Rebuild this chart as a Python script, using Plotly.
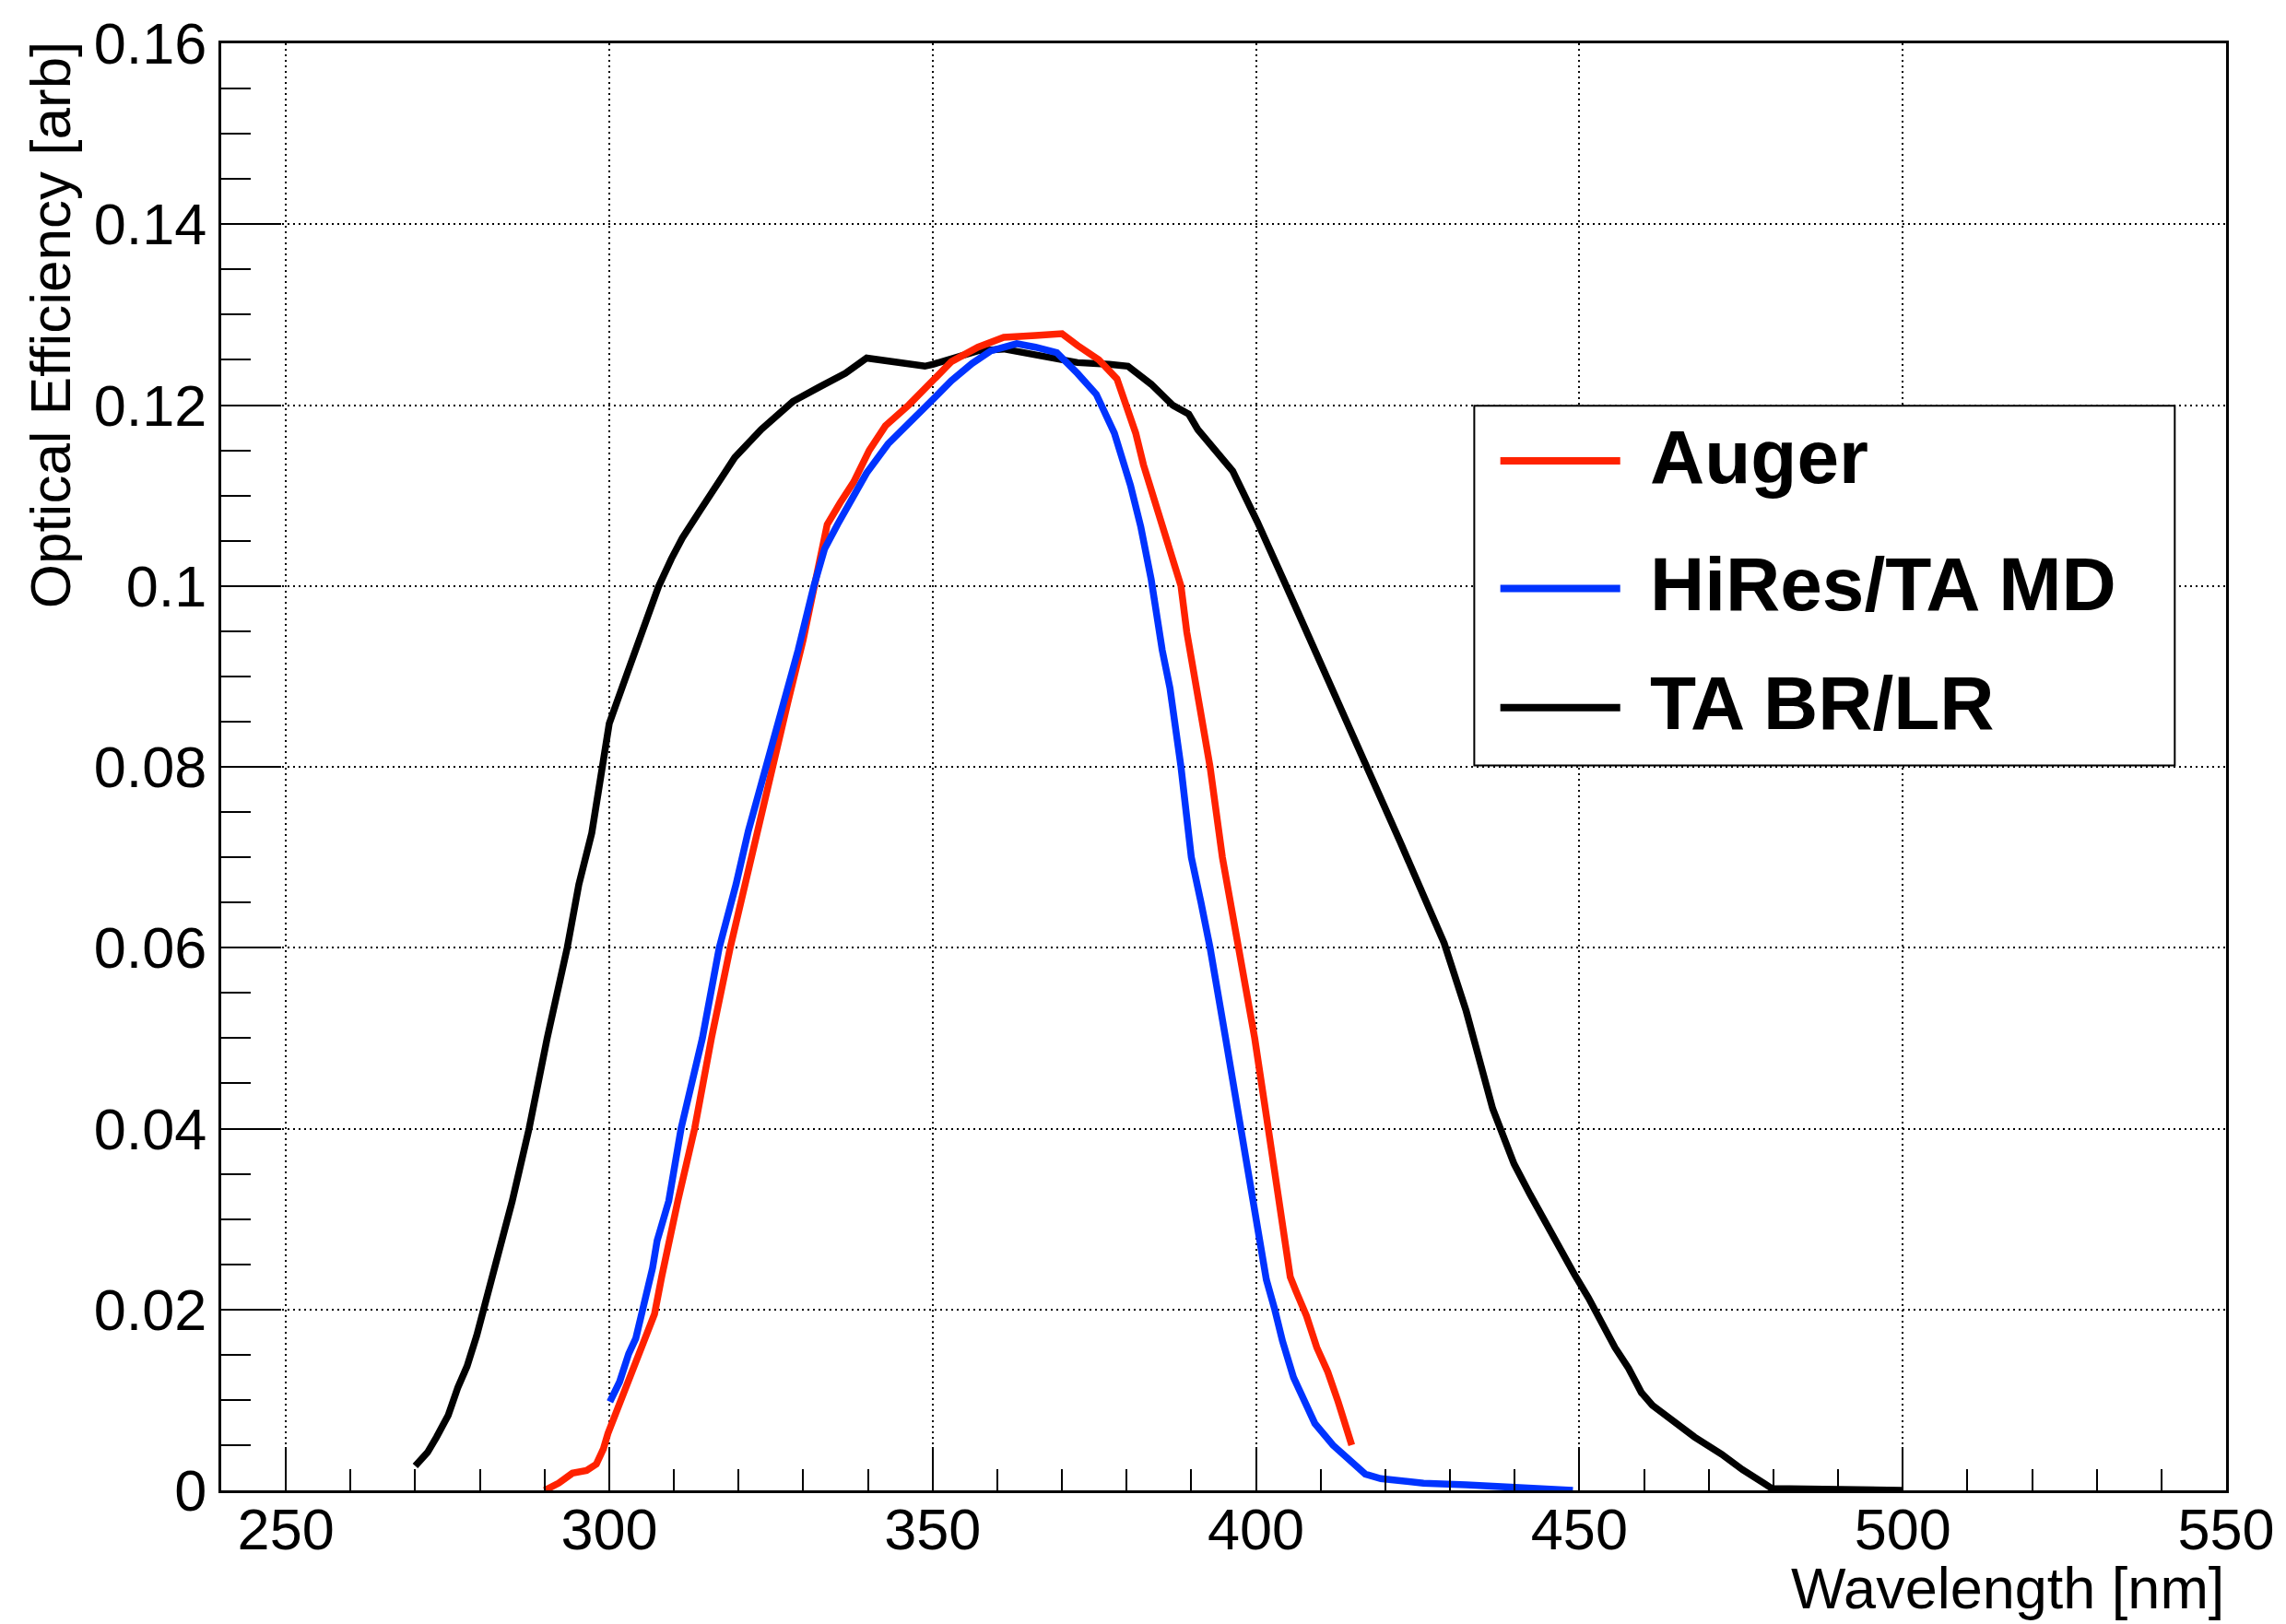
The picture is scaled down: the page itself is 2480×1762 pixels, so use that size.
import plotly.graph_objects as go

# ---------------- data ----------------
auger_x = [290.0, 292.2, 294.3, 296.5, 298.0, 299.1, 299.8, 300.9, 302.7, 304.5, 305.9, 307.0,
           308.1, 309.2, 310.6, 313.2, 315.8, 318.7, 321.0, 322.7, 325.1, 327.6, 330.0, 332.5,
           333.7, 335.7, 337.8, 340.2, 342.7, 346.3, 349.6, 352.9, 357.0, 361.0, 365.9, 370.0,
           372.4, 375.7, 378.5, 380.1, 381.4, 382.6, 384.2, 385.5, 387.1, 388.4, 389.3, 390.6,
           392.9, 394.8, 397.4, 399.8, 401.9, 403.6, 405.3,
           406.2, 407.8, 409.4, 411.1, 412.7, 414.8]
auger_y = [0.0000, 0.0008, 0.0019, 0.0022, 0.0029, 0.0046, 0.0063, 0.0083, 0.0117, 0.0151, 0.0178, 0.0195,
           0.0236, 0.0276, 0.0320, 0.0400, 0.0500, 0.0600, 0.0670, 0.0729, 0.0802, 0.0871, 0.0941, 0.1030,
           0.1068, 0.1092, 0.1115, 0.1150, 0.1177, 0.1200, 0.1225, 0.1248, 0.1264, 0.1275, 0.1277, 0.1279,
           0.1266, 0.1250, 0.1229, 0.1196, 0.1169, 0.1134, 0.1096, 0.1065, 0.1026, 0.1000, 0.0949, 0.0891,
           0.0800, 0.0700, 0.0600, 0.0500, 0.0400, 0.0323, 0.0236,
           0.0220, 0.0193, 0.0158, 0.0131, 0.0098, 0.0050]

hires_x = [300.1, 301.6, 303.0, 304.1, 304.9, 305.9, 306.7, 307.4, 308.5, 309.2, 311.1, 314.4,
           317.0, 319.6, 321.5, 324.3, 326.8, 329.2, 331.6, 333.3, 335.3, 337.4, 339.8, 343.1,
           346.3, 350.0, 352.9, 356.1, 359.0, 363.0, 365.9, 369.2, 372.4, 375.3, 378.1, 380.6,
           382.2, 383.8, 385.5, 386.7, 388.4, 389.6, 390.0, 391.5, 392.9, 395.3, 397.6, 399.3,
           400.4, 401.6, 402.9, 404.1, 405.8, 407.8, 409.1, 411.9, 414.4, 416.9, 419.3,
           422.6, 425.9, 432.5, 440.7, 449.0]
hires_y = [0.0098, 0.0120, 0.0151, 0.0168, 0.0192, 0.0219, 0.0246, 0.0276, 0.0307, 0.0320, 0.0400, 0.0500,
           0.0600, 0.0670, 0.0729, 0.0800, 0.0863, 0.0929, 0.0999, 0.1041, 0.1068, 0.1096, 0.1125, 0.1157,
           0.1181, 0.1206, 0.1227, 0.1246, 0.1260, 0.1268, 0.1264, 0.1258, 0.1235, 0.1212, 0.1169, 0.1111,
           0.1065, 0.1007, 0.0929, 0.0887, 0.0800, 0.0729, 0.0700, 0.0650, 0.0600, 0.0500, 0.0400, 0.0323,
           0.0277, 0.0233, 0.0200, 0.0165, 0.0125, 0.0094, 0.0074, 0.0050, 0.0033, 0.0018, 0.0013,
           0.0010, 0.0008, 0.0006, 0.0003, 0.0000]

tabr_x = [270.0, 271.9, 273.3, 275.1, 276.6, 278.0, 279.5, 280.6, 282.0, 283.5, 285.0, 287.6,
          290.4, 293.5, 295.3, 297.3, 299.0, 300.0, 302.7, 305.5, 307.6, 309.6, 311.3,
          314.1, 317.4, 319.4, 323.5, 328.4, 332.5, 336.5, 339.8, 344.7, 348.8, 350.0, 352.9,
          357.0, 361.0, 364.3, 368.4, 372.4, 377.3, 380.2, 383.8, 387.1, 389.6, 391.0, 396.4,
          400.2, 404.3, 408.8, 415.5, 422.3, 429.1, 432.5, 436.6, 437.8, 439.9, 442.4, 444.9,
          447.4, 449.3, 451.4, 453.5, 455.5, 457.6, 459.6, 461.3, 464.6, 467.8, 472.0, 475.2,
          478.5, 479.8, 500.0]
tabr_y = [0.0027, 0.0042, 0.0059, 0.0083, 0.0114, 0.0137, 0.0171, 0.0200, 0.0239, 0.0280, 0.0320, 0.0400,
          0.0500, 0.0600, 0.0670, 0.0727, 0.0800, 0.0848, 0.0902, 0.0960, 0.0999, 0.1030, 0.1053,
          0.1084, 0.1119, 0.1142, 0.1173, 0.1204, 0.1220, 0.1235, 0.1252, 0.1248, 0.1243, 0.1245, 0.1252,
          0.1260, 0.1262, 0.1258, 0.1252, 0.1247, 0.1245, 0.1243, 0.1223, 0.1200, 0.1190, 0.1173, 0.1127,
          0.1071, 0.1006, 0.0934, 0.0830, 0.0717, 0.0605, 0.0530, 0.0422, 0.0400, 0.0361, 0.0327, 0.0294,
          0.0260, 0.0238, 0.0213, 0.0185, 0.0158, 0.0135, 0.0108, 0.0094, 0.0076, 0.0059, 0.0040, 0.0023,
          0.0008, 0.0002, 0.0000]

series_names = ["Auger", "HiRes/TA MD", "TA BR/LR"]
series_colors = ["#ff2200", "#0033ff", "#000000"]

x_title = "Wavelength [nm]"
y_title = "Optical Efficiency [arb]"

# ---------------- figure ----------------
FONT = "Liberation Sans, Arial, Helvetica, sans-serif"
W, H = 2480, 1762
ML, MR, MT, MB = 240, 63, 40, 145

fig = go.Figure()
data = {
    "Auger": (auger_x, auger_y),
    "HiRes/TA MD": (hires_x, hires_y),
    "TA BR/LR": (tabr_x, tabr_y),
}
# drawing order: black underneath, then red, then blue on top
for idx in [2, 0, 1]:
    name = series_names[idx]
    xs, ys = data[name]
    fig.add_trace(go.Scatter(x=xs, y=ys, mode="lines", name=name,
                             line=dict(color=series_colors[idx], width=7.5),
                             showlegend=False, hoverinfo="skip"))

fig.update_xaxes(range=[240, 550], tick0=250, dtick=50,
                 ticks="inside", ticklen=47, tickwidth=2, tickcolor="black",
                 showline=True, linecolor="black", linewidth=3, mirror=True,
                 showgrid=True, gridcolor="black", gridwidth=2, griddash="2px,4px",
                 zeroline=False, ticklabelstandoff=-15,
                 tickfont=dict(family=FONT, size=63, color="black"),
                 minor=dict(dtick=10, tick0=250, ticks="inside", ticklen=23,
                            tickwidth=2, tickcolor="black", showgrid=False))
fig.update_yaxes(range=[0, 0.16], tick0=0, dtick=0.02,
                 ticks="inside", ticklen=65, tickwidth=2, tickcolor="black",
                 showline=True, linecolor="black", linewidth=3, mirror=True,
                 showgrid=True, gridcolor="black", gridwidth=2, griddash="2px,4px",
                 zeroline=False,
                 tickfont=dict(family=FONT, size=63, color="black"),
                 minor=dict(dtick=0.005, tick0=0, ticks="inside", ticklen=32,
                            tickwidth=2, tickcolor="black", showgrid=False))

annotations = [
    dict(text=x_title, xref="paper", yref="paper", x=1.0, y=-0.044,
         xanchor="right", yanchor="top", showarrow=False,
         font=dict(family=FONT, size=63, color="black")),
    dict(text=y_title, xref="paper", yref="paper", x=-0.0855, y=1.003,
         xanchor="center", yanchor="top", textangle=-90, showarrow=False,
         font=dict(family=FONT, size=62, color="black")),
]

shapes = []
# manual legend box
lx0, lx1, ly0, ly1 = 0.625, 0.9744, 0.501, 0.7495
shapes.append(dict(type="rect", xref="paper", yref="paper", x0=lx0, x1=lx1, y0=ly0, y1=ly1,
                   line=dict(color="black", width=2), fillcolor="white", layer="above"))
row_y = [0.7115, 0.6233, 0.541]
for name, color, yy in zip(series_names, series_colors, row_y):
    shapes.append(dict(type="line", xref="paper", yref="paper", x0=0.638, x1=0.6978,
                       y0=yy, y1=yy, line=dict(color=color, width=8), layer="above"))
    annotations.append(dict(text="<b>" + name + "</b>", xref="paper", yref="paper",
                            x=0.7115, y=yy + 0.003, xanchor="left", yanchor="middle", showarrow=False,
                            font=dict(family=FONT, size=82, color="black")))

fig.update_layout(width=W, height=H,
                  margin=dict(l=ML, r=MR, t=MT, b=MB, pad=0),
                  paper_bgcolor="white", plot_bgcolor="white",
                  showlegend=False,
                  annotations=annotations, shapes=shapes)

fig.write_html("out.html")
